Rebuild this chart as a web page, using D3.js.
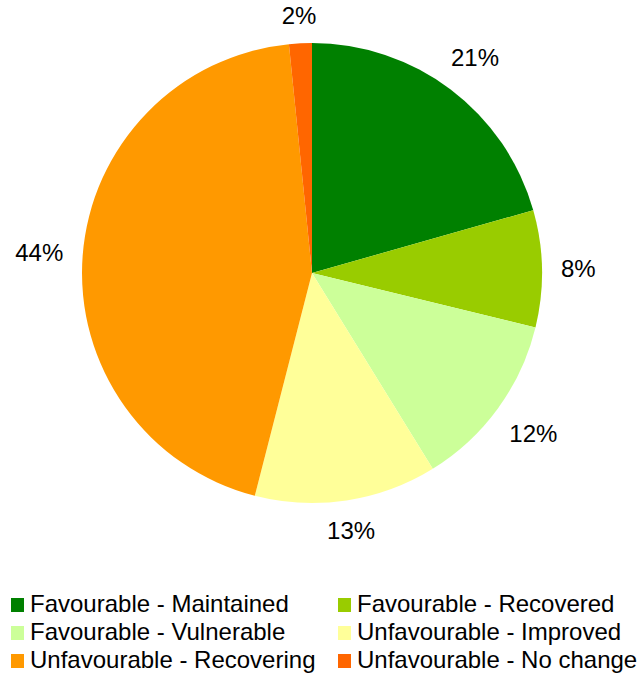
<!DOCTYPE html>
<html lang="en">
<head>
<meta charset="utf-8">
<title>Pie</title>
<script src="https://cdn.jsdelivr.net/npm/d3@7"></script>
<style>
  body { margin: 0; background: #ffffff; }
  text { font-family: "Liberation Sans", Arial, sans-serif; fill: #000000; }
</style>
</head>
<body>
<div id="chart"></div>
<script>
// categories, values (percent) and colours
var categories = ["Favourable - Maintained", "Favourable - Recovered", "Favourable - Vulnerable",
                  "Unfavourable - Improved", "Unfavourable - Recovering", "Unfavourable - No change"];
var values = [20.6, 8.2, 12.4, 12.8, 44.4, 1.6];
var colors = ["#008000", "#99cc00", "#ccff99", "#ffff99", "#ff9900", "#ff6600"];

var width = 644, height = 674;
var cx = 312, cy = 273, radius = 230;
var labelGap = 249;   // distance from centre to nearest edge of a label box
var fontSize = 24;

var svg = d3.select("#chart").append("svg")
  .attr("width", width)
  .attr("height", height);

var pie = d3.pie().sort(null).value(function(d) { return d; });
var arcs = pie(values);
var arc = d3.arc().innerRadius(0).outerRadius(radius);

var g = svg.append("g").attr("transform", "translate(" + cx + "," + cy + ")");

g.selectAll("path.slice")
  .data(arcs)
  .enter().append("path")
  .attr("class", "slice")
  .attr("d", arc)
  .attr("fill", function(d, i) { return colors[i]; });

// labels: pushed outward along the mid angle until the box clears labelGap
function boxDist(x, y, hw, hh) {
  var dx = Math.max(Math.abs(x) - hw, 0), dy = Math.max(Math.abs(y) - hh, 0);
  return Math.sqrt(dx * dx + dy * dy);
}

g.selectAll("text.pct")
  .data(arcs)
  .enter().append("text")
  .attr("class", "pct")
  .attr("text-anchor", "middle")
  .attr("dy", "0.36em")
  .attr("font-size", fontSize + "px")
  .text(function(d) { return Math.round(d.value) + "%"; })
  .attr("transform", function(d) {
    var a = (d.startAngle + d.endAngle) / 2;
    var ux = Math.sin(a), uy = -Math.cos(a);
    var hw = this.getComputedTextLength() / 2, hh = 9;
    var lo = 0, hi = 400;
    for (var k = 0; k < 40; k++) {
      var t = (lo + hi) / 2;
      if (boxDist(t * ux, t * uy, hw, hh) < labelGap) lo = t; else hi = t;
    }
    return "translate(" + (lo * ux) + "," + (lo * uy) + ")";
  });

// legend, two columns
var legend = svg.append("g").attr("class", "legend");
var item = legend.selectAll("g.item")
  .data(categories)
  .enter().append("g")
  .attr("class", "item")
  .attr("transform", function(d, i) {
    return "translate(" + (i % 2 === 0 ? 11 : 338) + "," + (598 + Math.floor(i / 2) * 28) + ")";
  });

item.append("rect")
  .attr("width", 13)
  .attr("height", 14)
  .attr("fill", function(d, i) { return colors[i]; });

item.append("text")
  .attr("x", 19)
  .attr("y", 14)
  .attr("font-size", fontSize + "px")
  .text(function(d) { return d; });
</script>
</body>
</html>
